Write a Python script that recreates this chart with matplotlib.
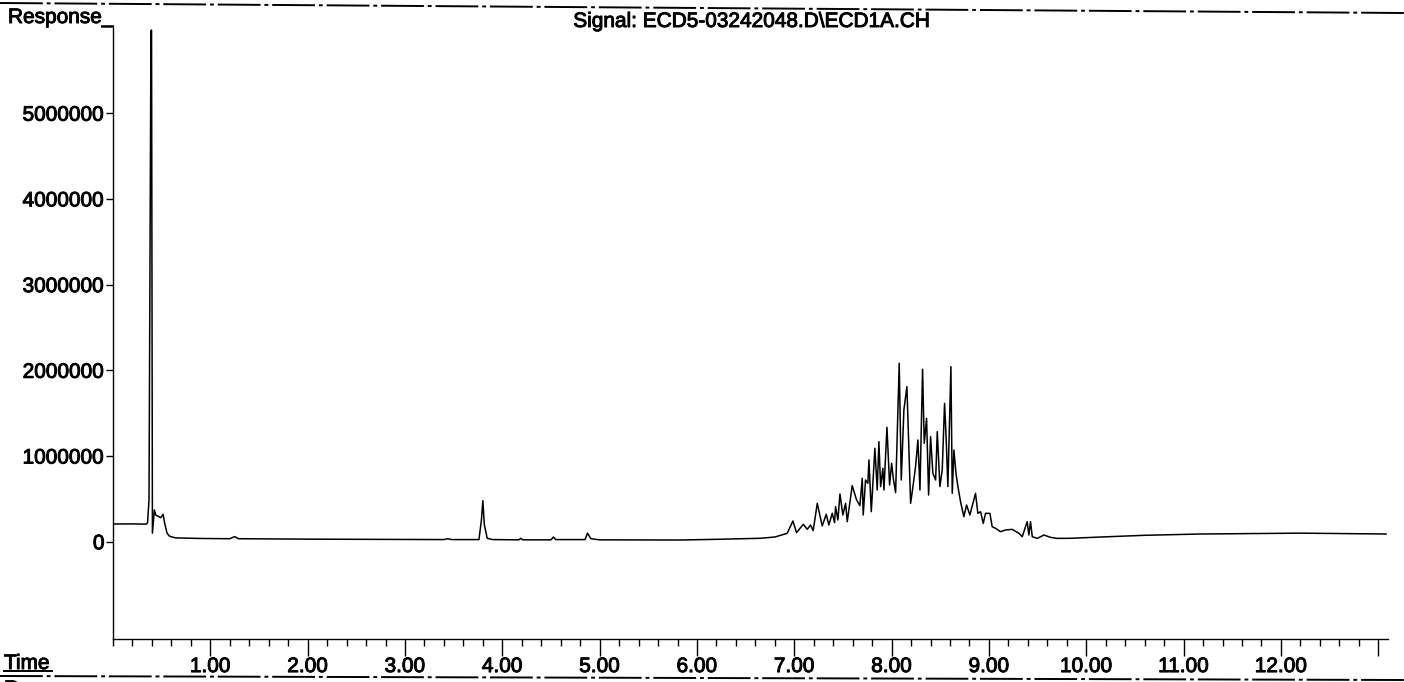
import matplotlib.pyplot as plt
import matplotlib.patheffects as pe
from matplotlib.lines import Line2D
from matplotlib.ticker import MultipleLocator

plt.rcParams['font.family'] = ['Liberation Sans', 'DejaVu Sans']

signal_name = 'Signal: ECD5-03242048.D\\ECD1A.CH'

# retention time (min) and detector response (counts)
time_min = [
    0.00, 0.20, 0.34, 0.355, 0.37, 0.390, 0.396, 0.405, 0.425, 0.44, 0.46,
    0.49, 0.515, 0.53, 0.555, 0.58, 0.64, 0.90, 1.20, 1.25, 1.29,
    2.00, 3.00, 3.40, 3.44, 3.48, 3.76, 3.785, 3.80, 3.815, 3.845,
    3.90, 4.17, 4.19, 4.21, 4.50, 4.525, 4.55, 4.85, 4.875, 4.91,
    5.00, 5.83, 6.20, 6.65, 6.80,
    6.927, 6.986, 7.023, 7.092, 7.133, 7.167, 7.194, 7.236, 7.287, 7.328,
    7.355, 7.390, 7.414, 7.424, 7.448, 7.469, 7.499, 7.527, 7.544, 7.595,
    7.640, 7.674, 7.698, 7.708, 7.732, 7.756, 7.767, 7.791, 7.828, 7.852,
    7.869, 7.887, 7.910, 7.921, 7.952, 7.979, 8.000, 8.017, 8.041, 8.078,
    8.099, 8.126, 8.157, 8.174, 8.195, 8.219, 8.246, 8.270, 8.291, 8.318,
    8.335, 8.359, 8.380, 8.400, 8.424, 8.452, 8.469, 8.496, 8.520, 8.544,
    8.561, 8.578, 8.609, 8.623, 8.640, 8.661, 8.681, 8.708, 8.742, 8.770,
    8.804, 8.862, 8.886, 8.914, 8.941, 8.965, 9.010, 9.033, 9.068, 9.119,
    9.170, 9.239, 9.308, 9.342, 9.393, 9.410, 9.427, 9.445, 9.496,
    9.565, 9.633, 9.70, 9.84, 10.15, 10.60, 11.17, 12.20, 13.08,
]
response = [
    207000, 208000, 205000, 220000, 490000, 5960000, 5970000, 100000, 370000, 310000, 300000,
    280000, 320000, 220000, 100000, 65000, 45000, 38000, 35000, 60000, 35000,
    30000, 27000, 25000, 35000, 25000, 25000, 250000, 478000, 200000, 40000,
    25000, 22000, 40000, 22000, 22000, 55000, 25000, 25000, 100000, 35000,
    22000, 20000, 28000, 40000, 55000,
    98000, 242000, 106000, 203000, 145000, 195000, 129000, 448000, 184000, 320000,
    195000, 332000, 223000, 409000, 254000, 557000, 312000, 448000, 234000, 654000,
    487000, 421000, 740000, 312000, 720000, 682000, 954000, 351000, 1090000, 604000,
    1168000, 643000, 857000, 604000, 1335000, 662000, 915000, 740000, 573000, 2082000,
    720000, 1537000, 1809000, 1187000, 448000, 643000, 876000, 1187000, 604000, 2012000,
    1148000, 1440000, 545000, 1226000, 798000, 720000, 1284000, 643000, 837000, 1615000,
    1187000, 643000, 2043000, 565000, 1070000, 798000, 643000, 467000, 292000, 428000,
    312000, 564000, 331000, 350000, 214000, 331000, 331000, 175000, 156000, 117000,
    137000, 144000, 98000, 59000, 234000, 78000, 234000, 59000, 39000,
    78000, 51000, 39000, 40000, 55000, 75000, 90000, 100000, 90000,
]

x_major = [1, 2, 3, 4, 5, 6, 7, 8, 9, 10, 11, 12, 13]
x_labels = ['1.00', '2.00', '3.00', '4.00', '5.00', '6.00', '7.00', '8.00',
            '9.00', '10.00', '11.00', '12.00', '']
y_major = [0, 1000000, 2000000, 3000000, 4000000, 5000000]
y_labels = ['0', '1000000', '2000000', '3000000', '4000000', '5000000']

# slightly heavier glyphs, like a printed report
heavy = [pe.withStroke(linewidth=0.7, foreground='black')]

W, H = 1404, 682
fig = plt.figure(figsize=(W / 100, H / 100), dpi=100)
ax = fig.add_axes([113 / W, 1 - 639 / H, (1388 - 113) / W, (639 - 28) / H])

ax.plot(time_min, response, color='black', lw=1.1)

ax.set_xlim(0, 13.1)
ax.set_ylim(-1135000, 5994000)
ax.spines['top'].set_visible(False)
ax.spines['right'].set_visible(False)
for side in ('left', 'bottom'):
    ax.spines[side].set_linewidth(1.0)

ax.set_xticks(x_major, labels=x_labels)
ax.xaxis.set_minor_locator(MultipleLocator(0.2))
ax.set_yticks(y_major, labels=y_labels)
ax.tick_params(axis='x', which='major', length=12, width=1, labelsize=15, pad=1)
ax.tick_params(axis='x', which='minor', length=5, width=1)
ax.tick_params(axis='y', which='major', length=5, width=1, labelsize=15, pad=1)
for lab in ax.get_xticklabels() + ax.get_yticklabels():
    lab.set_path_effects(heavy)

# header / footer text of the printout
fig.text(8 / W, 1 - 23 / H, 'Response_', fontsize=15, ha='left', va='baseline',
         path_effects=heavy)
fig.text(752 / W, 1 - 27 / H, signal_name, fontsize=15, ha='center', va='baseline',
         path_effects=heavy)
fig.text(4 / W, 1 - 669 / H, 'Time', fontsize=15, ha='left', va='baseline',
         path_effects=heavy)
fig.add_artist(Line2D([4 / W, 52 / W], [1 - 671 / H, 1 - 671 / H],
                      transform=fig.transFigure, color='black', lw=1.4))
# next page header starts just below the bottom edge
fig.text(4 / W, 1 - 680 / H, 'Response', fontsize=15, ha='left', va='top',
         path_effects=heavy)

# page separator lines
dash = (0, (22, 2, 2, 2))
fig.add_artist(Line2D([0, 1], [1 - 3 / H, 1 - 13 / H], transform=fig.transFigure,
                      color='black', lw=1.4, ls=dash))
fig.add_artist(Line2D([0, 1], [1 - 676 / H, 1 - 680 / H], transform=fig.transFigure,
                      color='black', lw=1.4, ls=dash))

fig.savefig('out.png', dpi=100)
